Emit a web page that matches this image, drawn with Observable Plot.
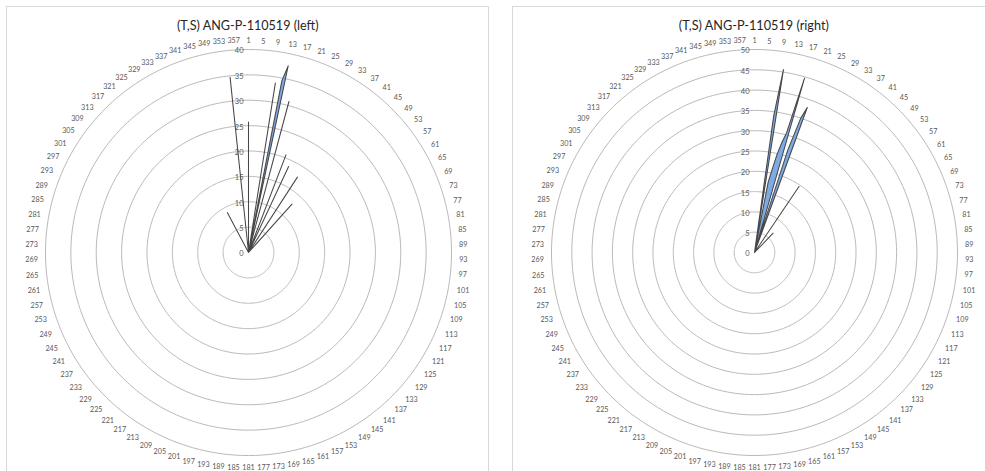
<!DOCTYPE html>
<html><head><meta charset="utf-8">
<script src="https://cdn.jsdelivr.net/npm/d3@7"></script>
<script src="https://cdn.jsdelivr.net/npm/@observablehq/plot@0.6"></script>
<style>
body{margin:0;background:#fff;width:985px;height:471px;overflow:hidden;position:relative;font-family:Lato,"Open Sans",sans-serif}
.panel{position:absolute;top:6px;width:483px;height:480px;border:1px solid #d9d9d9;box-sizing:border-box}
.title{position:absolute;top:17px;line-height:16px;white-space:nowrap;font-size:14px;color:#262626;transform-origin:center center}
.chart{position:absolute;top:31.5px}
.chart svg{overflow:visible}
</style></head><body>
<div class="panel" style="left:6px"></div>
<div class="panel" style="left:512px"></div>
<div id="t0" class="title"></div>
<div id="t1" class="title"></div>
<div id="c0" class="chart" style="left:28.3px"></div>
<div id="c1" class="chart" style="left:534.3px"></div>
<script>
// ---- data ----
const titles = ["(T,S) ANG-P-110519 (left)", "(T,S) ANG-P-110519 (right)"];
const categoryLabels = d3.range(1, 361, 4); // 1, 5, 9, ..., 357
const leftTicks = [0, 5, 10, 15, 20, 25, 30, 35, 40];
const rightTicks = [0, 5, 10, 15, 20, 25, 30, 35, 40, 45, 50];
// category (1..360, 1° apart, category 1 at the top) and its value; all others are 0
const leftCats = [1, 10, 12, 13, 16, 22, 26, 34, 43, 333, 355];
const leftVals = [25.7, 33.8, 34.5, 37.6, 30.8, 20.6, 18.7, 17.7, 12.8, 8.9, 34.7];
const rightCats = [9, 10, 12, 13, 14, 15, 16, 17, 19, 20, 21, 35, 45];
const rightVals = [34, 45.6, 17.6, 21, 25, 28, 30.5, 44.7, 26.5, 35, 38, 19.6, 6.6];

// ---- drawing ----
const HALF = 220, OUTER = 203;
function radar(cats, vals, ticks) {
  const rMax = ticks[ticks.length - 1];
  const R = rMax * HALF / OUTER;
  const ppu = OUTER / rMax;
  const byCat = new Map(cats.map((c, i) => [c, vals[i]]));
  const series = d3.range(1, 361).map(k => ({k, v: byCat.get(k) ?? 0}));
  series.push(series[0]);
  const lon = k => 180 - (k - 1);
  const lat = v => 90 - v;
  const labelData = categoryLabels.map(k => {
    const th = (k - 1) * Math.PI / 180;
    const w = String(k).length * 4.2;
    const c = Math.cos(th);
    const rpx = 208 + Math.abs(Math.sin(th)) * (w / 2 + 2.5) + (c > 0 ? 3.5 : 7) * Math.abs(c);
    return {k, r: rpx / ppu};
  });
  return Plot.plot({
    width: 2 * HALF, height: 2 * HALF, margin: 0,
    style: {fontFamily: "Lato, 'Open Sans', sans-serif", overflow: "visible", background: "transparent"},
    projection: {type: "azimuthal-equidistant", rotate: [0, -90], domain: d3.geoCircle().center([0, 90]).radius(R)()},
    marks: [
      Plot.geo(ticks.filter(t => t > 0), {geometry: t => d3.geoCircle().center([0, 90]).radius(t).precision(1)(), stroke: "#b0b0b0", strokeWidth: 0.9, fill: "none"}),
      Plot.line(series, {x: d => lon(d.k), y: d => lat(d.v), curve: "linear", stroke: "#474747", strokeWidth: 1.05, fill: "#7dabe6"}),
      Plot.text(ticks, {x: () => 180, y: t => lat(t), text: t => String(t), textAnchor: "end", dx: -5, dy: 1.5, fontSize: 7.5, fill: "#595959"}),
      Plot.text(labelData, {x: d => lon(d.k), y: d => 90 - d.r, text: d => String(d.k), fontSize: 7.2, fill: "#595959"})
    ]
  });
}
document.getElementById("c0").append(radar(leftCats, leftVals, leftTicks));
document.getElementById("c1").append(radar(rightCats, rightVals, rightTicks));

// titles
const tCenters = [247.5, 754.3], tWidths = [141.6, 150];
titles.forEach((t, i) => {
  const el = document.getElementById("t" + i);
  el.textContent = t;
  const w = el.getBoundingClientRect().width;
  el.style.left = (tCenters[i] - w / 2) + "px";
  el.style.transform = `scaleX(${tWidths[i] / w})`;
});
</script>
</body></html>
